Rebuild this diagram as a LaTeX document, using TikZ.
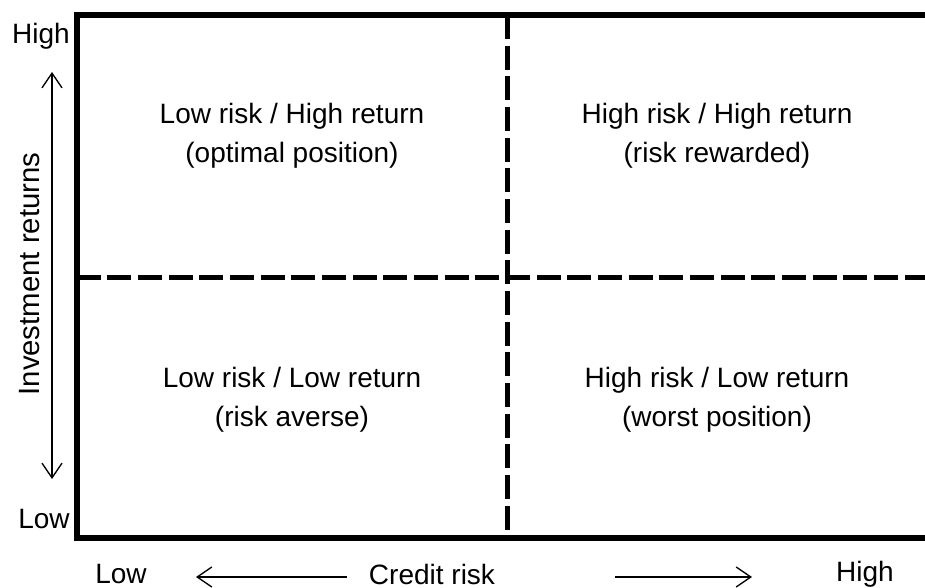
\documentclass[tikz,border=0pt]{standalone}
\usepackage{fontspec}
\setmainfont{Liberation Sans}
\usetikzlibrary{positioning,calc,arrows.meta}

\tikzset{
    quadtext/.style={align=center,inner sep=0pt,font=\fontsize{21}{29}\selectfont},
    axislabel/.style={inner sep=0pt,font=\fontsize{21}{25}\selectfont},
    frame/.style={line width=4.5pt},
    divider/.style={line width=3.75pt,dash pattern=on 18pt off 5pt},
    axisarrow/.style={line width=1pt,-{Straight Barb[length=11pt,width=15pt]}},
    bothways/.style={line width=1pt,{Straight Barb[length=11pt,width=15pt]}-{Straight Barb[length=11pt,width=15pt]}},
}

\begin{document}
\begin{tikzpicture}[x=0.75pt,y=-0.75pt]
        \useasboundingbox (0,0) rectangle (925,588);

        % corners of the grid and the two dividers
        \coordinate (boxnw) at (76.5,15);
        \coordinate (boxse) at (940,538);
        \coordinate (midtop) at (507,15);
        \coordinate (midbot) at (507,538);
        \coordinate (midleft) at (76.5,277);
        \coordinate (midright) at (930,277);

        \draw[frame] (boxnw) rectangle (boxse);
        \draw[divider] (midtop) -- (midbot);
        \draw[divider] (midleft) -- (midright);

        % quadrant texts
        \node[quadtext] (lowhigh) at (292,135.5) {Low risk / High return\\(optimal position)};
        \node[quadtext] (highhigh) at (717,135.5) {High risk / High return\\(risk rewarded)};
        \node[quadtext] (lowlow) at (292,400) {Low risk / Low return\\(risk averse)};
        \node[quadtext] (highlow) at (717,400) {High risk / Low return\\(worst position)};

        % vertical axis
        \node[axislabel] (yhigh) at (41,36) {High};
        \node[axislabel] (ylow) at (44,519) {Low};
        \node[axislabel,rotate=90,font=\fontsize{22}{25}\selectfont] (ytitle) at (30,274) {Investment returns};
        \coordinate (yup) at (52,72);
        \coordinate (ydown) at (52,479);
        \draw[bothways] (yup) -- (ydown);

        % horizontal axis
        \node[axislabel] (xlow) at (121,574) {Low};
        \node[axislabel] (xtitle) at (432,574) {Credit risk};
        \node[axislabel] (xhigh) at (865,574) {High};
        \coordinate (leftstart) at (347,577);
        \coordinate (leftend) at (196,577);
        \coordinate (rightstart) at (615,577);
        \coordinate (rightend) at (752,577);
        \draw[axisarrow] (leftstart) -- (leftend);
        \draw[axisarrow] (rightstart) -- (rightend);
\end{tikzpicture}
\end{document}
